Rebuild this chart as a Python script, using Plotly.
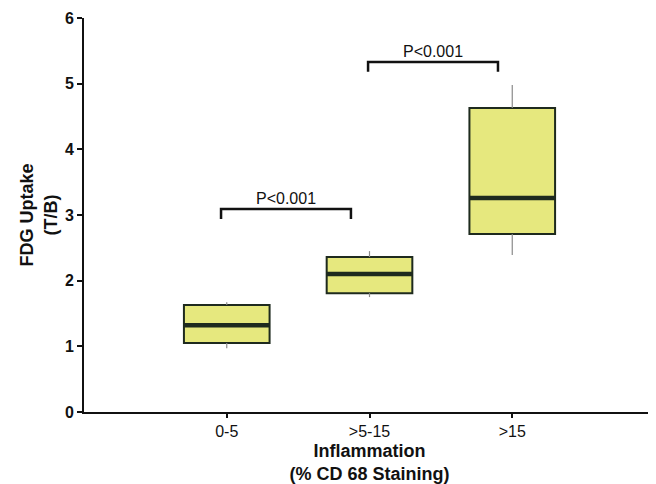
import plotly.graph_objects as go

categories = ["0-5", ">5-15", ">15"]
positions = [1, 2, 3]
q1 = [1.05, 1.81, 2.71]
median = [1.32, 2.10, 3.26]
q3 = [1.63, 2.36, 4.63]
lower_whisker = [0.97, 1.75, 2.39]
upper_whisker = [1.67, 2.45, 4.98]

# significance brackets: (x start, x end, y level, label)
bracket_x0 = [0.96, 1.99]
bracket_x1 = [1.87, 2.90]
bracket_y = [3.09, 5.33]
bracket_drop = 0.15
bracket_labels = ["P<0.001", "P<0.001"]

y_ticks = [0, 1, 2, 3, 4, 5, 6]

box_w = 0.6
edge = "#1e2a1e"
fill = "#e6e87e"

fig = go.Figure()

# whiskers
for p, lo, hi, a, b in zip(positions, lower_whisker, upper_whisker, q1, q3):
    fig.add_trace(go.Scatter(x=[p, p, None, p, p], y=[lo, a, None, b, hi], mode="lines",
                             line=dict(color="#8a8a8a", width=1.2), showlegend=False,
                             hoverinfo="skip"))

# boxes
for p, a, m, b in zip(positions, q1, median, q3):
    fig.add_trace(go.Box(x=[p], q1=[a], median=[m], q3=[b], lowerfence=[a], upperfence=[b],
                         width=box_w, fillcolor=fill, line=dict(color=edge, width=2),
                         whiskerwidth=0, showlegend=False, boxpoints=False))

# thick medians
for p, m in zip(positions, median):
    fig.add_trace(go.Scatter(x=[p - box_w / 2, p + box_w / 2], y=[m, m], mode="lines",
                             line=dict(color=edge, width=4.5), showlegend=False,
                             hoverinfo="skip"))

# brackets
for x0, x1, yb, lab in zip(bracket_x0, bracket_x1, bracket_y, bracket_labels):
    fig.add_trace(go.Scatter(x=[x0, x0, x1, x1], y=[yb - bracket_drop, yb, yb, yb - bracket_drop],
                             mode="lines", line=dict(color="#111111", width=2.5),
                             showlegend=False, hoverinfo="skip"))
    fig.add_annotation(x=(x0 + x1) / 2, y=yb, text=lab, showarrow=False, yanchor="bottom",
                       yshift=0, font=dict(family="Liberation Sans, Arial", size=16, color="#111111"))

fig.update_layout(
    width=648, height=476,
    margin=dict(l=76, r=1, t=10, b=72),
    paper_bgcolor="white", plot_bgcolor="white",
    font=dict(family="Liberation Sans, Arial", color="#111111"),
    xaxis=dict(range=[0, 4], tickvals=positions, ticktext=categories, automargin=False,
               showgrid=False, zeroline=False, showline=True, linecolor="#111111", linewidth=2,
               ticks="outside", ticklen=4, tickwidth=2, tickcolor="#111111",
               tickfont=dict(size=16),
               title=dict(text="<b>Inflammation<br>(% CD 68 Staining)</b>", font=dict(size=18), standoff=10)),
    yaxis=dict(range=[0, 6], tickvals=y_ticks, ticktext=[f"<b>{v}</b>" for v in y_ticks], automargin=False,
               showgrid=False, zeroline=False, showline=True, linecolor="#111111", linewidth=2,
               ticks="outside", ticklen=5, tickwidth=2, tickcolor="#111111",
               tickfont=dict(size=16),
               title=dict(text="<b>FDG Uptake<br>(T/B)</b>", font=dict(size=18), standoff=3)),
)

fig.write_html("out.html")
